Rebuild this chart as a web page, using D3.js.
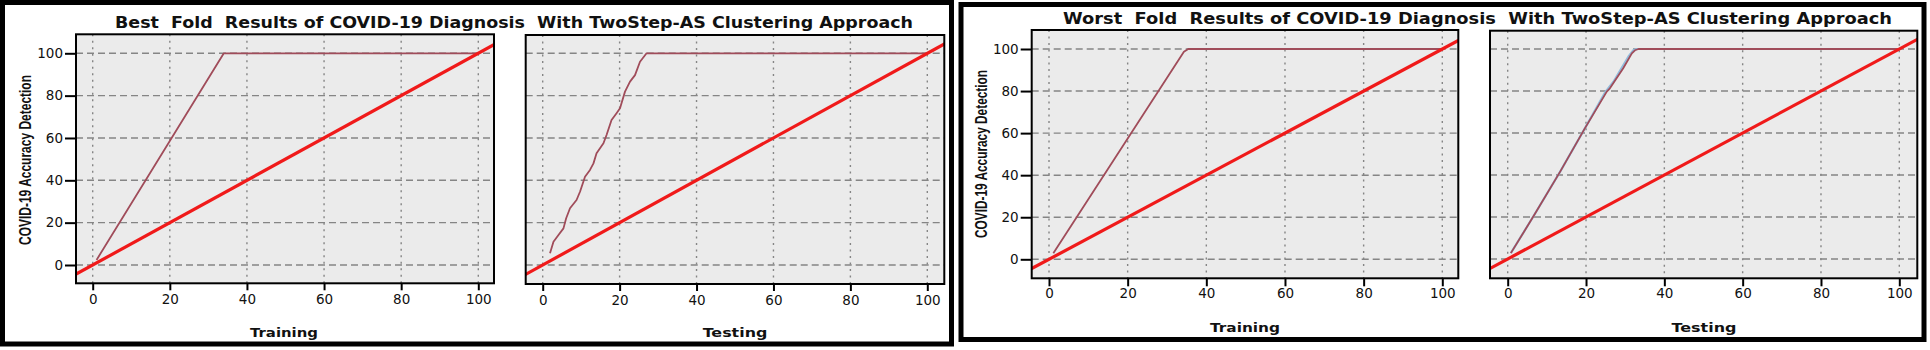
<!DOCTYPE html>
<html><head><meta charset="utf-8">
<script src="https://cdn.jsdelivr.net/npm/d3@7"></script>
<style>
html,body{margin:0;padding:0;background:#fff;}
svg{display:block;}
</style></head><body>
<svg id="c" width="1930" height="350"></svg>
<script>
// ---------- data ----------
const titleBest = "Best  Fold  Results of COVID-19 Diagnosis  With TwoStep-AS Clustering Approach";
const titleWorst = "Worst  Fold  Results of COVID-19 Diagnosis  With TwoStep-AS Clustering Approach";
const yLabel = "COVID-19 Accuracy Detection";
const xLabels = ["Training", "Testing"];
const xTicks = [0, 20, 40, 60, 80, 100];
const yTicks = [0, 20, 40, 60, 80, 100];

// reference (diagonal) line
const refX = [-10, 110];
const refY = [-10, 110];

// Best fold
const bestTrainX = [1.0, 34.0, 100];
const bestTrainY = [2.4, 100, 100];
const bestTestX = [1.9, 2.8, 4.1, 5.4, 6.1, 7.1, 8.8, 9.7, 11.0, 12.3, 13.2, 14.0, 15.8, 16.6, 17.9, 19.2, 20.1, 21.4, 22.7, 24.0, 25.3, 27.0, 100];
const bestTestY = [5.5, 11.0, 14.2, 17.3, 22.1, 26.8, 30.7, 34.6, 41.7, 44.9, 48.0, 52.8, 57.5, 61.4, 68.5, 71.7, 74.0, 81.9, 86.6, 89.7, 96.0, 100, 100];

// Worst fold
const worstTrainX = [1.1, 34.3, 35.4, 100];
const worstTrainY = [2.9, 98.7, 100, 100];
const worstTestX = [0.8, 6.5, 13.4, 19.7, 25.3, 26.1, 29.5, 31.7, 32.5, 33.4, 100];
const worstTestY = [2.8, 20.1, 41.6, 62.2, 79.7, 81.3, 90.8, 97.9, 99.4, 100, 100];
const worstTestBlueX = [0.8, 6.5, 13.4, 19.7, 25.0, 27.0, 30.8, 32.1, 32.9, 100];
const worstTestBlueY = [2.8, 20.1, 41.6, 62.2, 79.7, 84.4, 96.3, 99.5, 100, 100];

// ---------- drawing ----------
const svg = d3.select("#c");
const zip = (xs, ys) => xs.map((v, i) => [v, ys[i]]);

const CURVE = "#a04c5a", BLUE = "#93bcdc", RED = "#f01a1a", GRID = "#858585", BG = "#ebebeb";

// outer boxes
svg.append("rect").attr("x", 2.5).attr("y", 2.5).attr("width", 949).attr("height", 341.5)
  .attr("fill", "none").attr("stroke", "#000").attr("stroke-width", 5);
svg.append("rect").attr("x", 961).attr("y", 4.5).attr("width", 963).attr("height", 335)
  .attr("fill", "none").attr("stroke", "#000").attr("stroke-width", 5);

function title(txt, x0, x1, base, fs) {
  svg.append("text").attr("x", (x0 + x1) / 2).attr("y", base)
    .attr("text-anchor", "middle")
    .attr("textLength", x1 - x0).attr("lengthAdjust", "spacingAndGlyphs")
    .style("white-space", "pre")
    .style("font-family", "'DejaVu Sans', Verdana, sans-serif")
    .style("font-weight", "bold").style("font-size", fs + "px").attr("fill", "#111")
    .text(txt);
}
title(titleBest, 115, 913, 28.3, 15.5);
title(titleWorst, 1063, 1892, 24, 15.5);

function yTitle(cx, cy, len) {
  svg.append("text").attr("transform", `translate(${cx},${cy}) rotate(-90)`)
    .attr("text-anchor", "middle")
    .attr("textLength", len).attr("lengthAdjust", "spacingAndGlyphs")
    .style("font-family", "'Liberation Sans', Arial, sans-serif")
    .style("font-weight", "bold").style("font-size", "16.5px").attr("fill", "#111")
    .text(yLabel);
}
yTitle(31, 160, 170);
yTitle(986.5, 154, 168);

let clipId = 0;
function plot(cfg) {
  const f = cfg.frame;
  const x = d3.scaleLinear().domain([0, 100]).range(cfg.xr);
  const y = d3.scaleLinear().domain([0, 100]).range(cfg.yr);
  const g = svg.append("g");
  const id = "clip" + (clipId++);
  g.append("clipPath").attr("id", id).append("rect")
    .attr("x", f.x0).attr("y", f.y0).attr("width", f.x1 - f.x0).attr("height", f.y1 - f.y0);
  g.append("rect").attr("x", f.x0).attr("y", f.y0).attr("width", f.x1 - f.x0).attr("height", f.y1 - f.y0)
    .attr("fill", BG);
  // grid
  g.selectAll(".hg").data(yTicks).join("line")
    .attr("x1", f.x0).attr("x2", f.x1).attr("y1", d => y(d)).attr("y2", d => y(d))
    .attr("stroke", GRID).attr("stroke-width", 1.4).attr("stroke-dasharray", "7,4");
  g.selectAll(".vg").data(xTicks).join("line")
    .attr("y1", f.y0).attr("y2", f.y1).attr("x1", d => x(d)).attr("x2", d => x(d))
    .attr("stroke", GRID).attr("stroke-width", 1.4).attr("stroke-dasharray", "2,4.5");
  const line = d3.line().x(d => x(d[0])).y(d => y(d[1]));
  const cg = g.append("g").attr("clip-path", `url(#${id})`);
  cfg.series.forEach(s => {
    cg.append("path").attr("d", line(zip(s.x, s.y))).attr("fill", "none")
      .attr("stroke", s.color).attr("stroke-width", s.w).attr("stroke-linejoin", "round");
  });
  cg.append("path").attr("d", line(zip(refX, refY))).attr("fill", "none")
    .attr("stroke", RED).attr("stroke-width", 3.2);
  g.append("rect").attr("x", f.x0).attr("y", f.y0).attr("width", f.x1 - f.x0).attr("height", f.y1 - f.y0)
    .attr("fill", "none").attr("stroke", "#000").attr("stroke-width", 2);
  // x axis
  const ax = g.append("g").attr("transform", `translate(0,${f.y1})`)
    .call(d3.axisBottom(x).tickValues(xTicks).tickSize(cfg.xTick).tickPadding(cfg.xPad));
  ax.select(".domain").remove();
  ax.selectAll(".tick line").attr("stroke", "#000").attr("stroke-width", 2);
  ax.selectAll("text").style("font-family", "'DejaVu Sans', sans-serif").style("font-size", "13.5px")
    .attr("fill", "#111");
  if (cfg.showY) {
    const ay = g.append("g").attr("transform", `translate(${f.x0},0)`)
      .call(d3.axisLeft(y).tickValues(yTicks).tickSize(11).tickPadding(2));
    ay.select(".domain").remove();
    ay.selectAll(".tick line").attr("stroke", "#000").attr("stroke-width", 2);
    ay.selectAll("text").style("font-family", "'DejaVu Sans', sans-serif").style("font-size", "13.5px")
      .attr("fill", "#111");
  }
  svg.append("text").attr("x", cfg.lab.cx).attr("y", cfg.lab.base).attr("text-anchor", "middle")
    .attr("textLength", cfg.lab.w).attr("lengthAdjust", "spacingAndGlyphs")
    .style("font-family", "'DejaVu Sans', Verdana, sans-serif")
    .style("font-weight", "bold").style("font-size", "13px").attr("fill", "#111")
    .text(cfg.lab.text);
}

plot({ frame: { x0: 76, x1: 494, y0: 34.3, y1: 283.3 }, xr: [92.7, 478.3], yr: [265, 53.3],
  showY: true, xTick: 7, xPad: 4,
  series: [{ x: bestTrainX, y: bestTrainY, color: CURVE, w: 1.8 }],
  lab: { text: xLabels[0], cx: 284, base: 337.3, w: 68 } });
plot({ frame: { x0: 525.7, x1: 944.3, y0: 35, y1: 284 }, xr: [542.7, 927.3], yr: [265, 53.3],
  showY: false, xTick: 7, xPad: 4,
  series: [{ x: bestTestX, y: bestTestY, color: CURVE, w: 1.8 }],
  lab: { text: xLabels[1], cx: 735, base: 337.3, w: 64.7 } });
plot({ frame: { x0: 1031.7, x1: 1458.3, y0: 30, y1: 278.3 }, xr: [1049, 1442.3], yr: [259.3, 49],
  showY: true, xTick: 8, xPad: 2.2,
  series: [{ x: worstTrainX, y: worstTrainY, color: CURVE, w: 1.8 }],
  lab: { text: xLabels[0], cx: 1245, base: 331.7, w: 70 } });
plot({ frame: { x0: 1490, x1: 1917.3, y0: 30.7, y1: 278.3 }, xr: [1507.7, 1899.3], yr: [259, 49],
  showY: false, xTick: 8, xPad: 2.2,
  series: [{ x: worstTestBlueX, y: worstTestBlueY, color: BLUE, w: 2.2 },
           { x: worstTestX, y: worstTestY, color: CURVE, w: 1.8 }],
  lab: { text: xLabels[1], cx: 1704, base: 331.7, w: 65 } });
</script>
</body></html>
